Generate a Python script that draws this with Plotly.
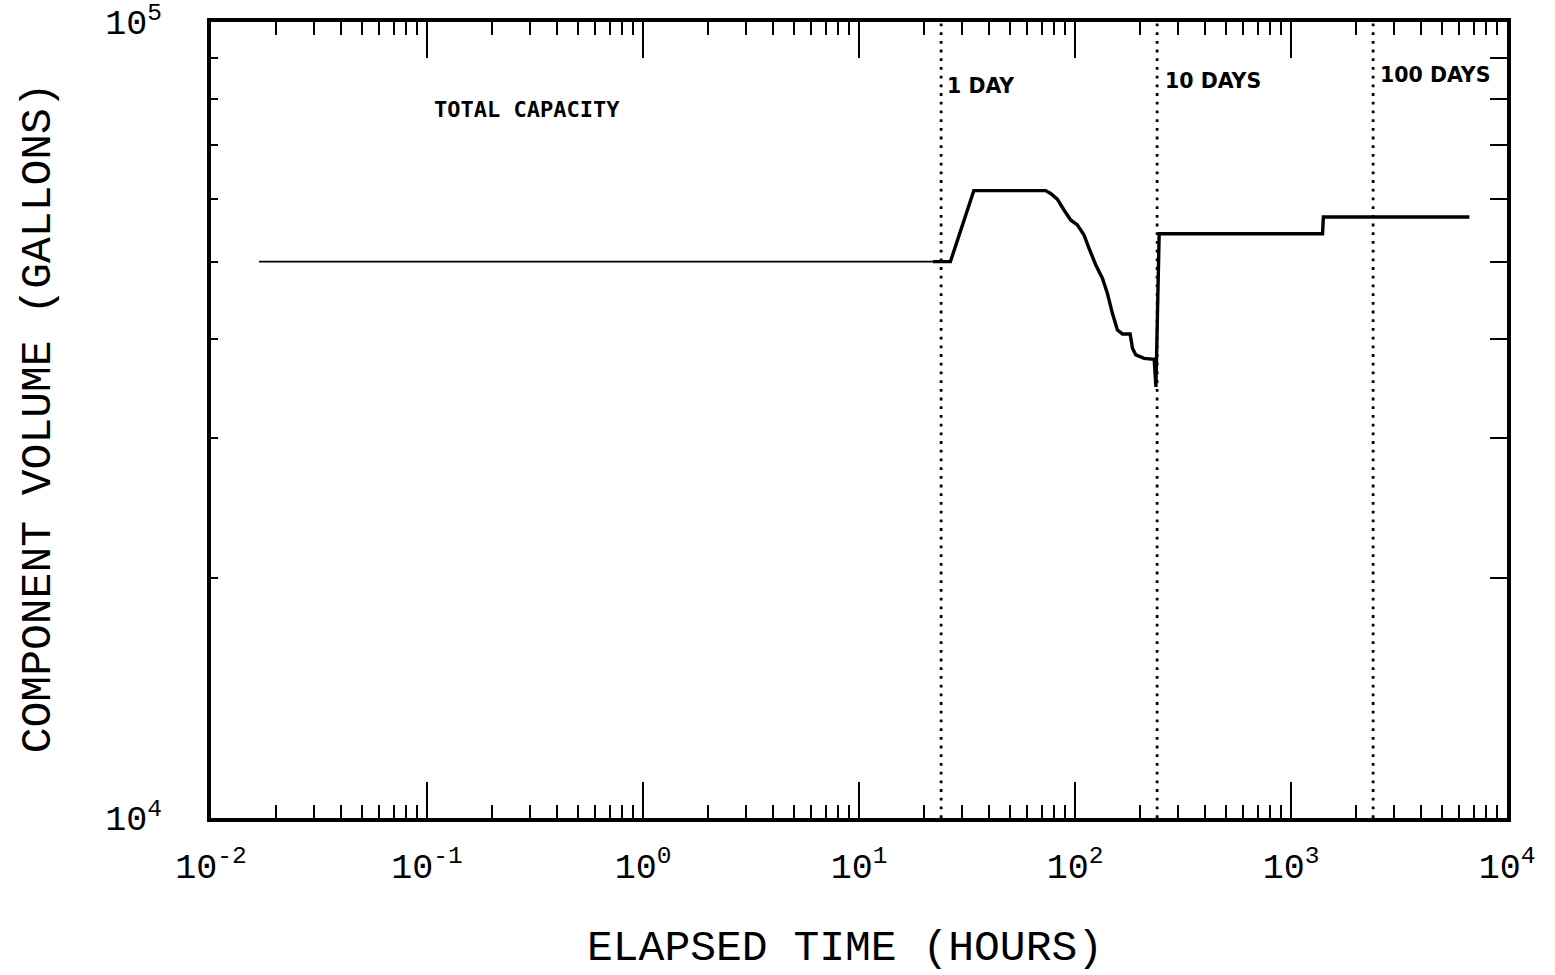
import numpy as np
import plotly.graph_objects as go

# Component volume history (hours, gallons)
early_time_hr = [1 / 60, 22.0]
early_volume_gal = [50000, 50000]

time_hr = [22.0, 26.5, 34.0, 73.1, 77.1, 82.8, 88.9, 95.5, 102.5, 110.1, 116.1,
           124.8, 133.9, 141.2, 149.0, 157.2, 165.8, 180.0, 184.5, 191.3, 209.0,
           232.6, 236.9, 245.3, 1400.0, 1412.0, 6700.0]
volume_gal = [50000, 50000, 61400, 61400, 60900, 59900, 58050, 56400, 55600,
              54000, 51970, 49520, 47650, 45620, 43050, 41030, 40560, 40560,
              38920, 38170, 37800, 37700, 34800, 54200, 54200, 56900, 56900]

# Reference time marks
mark_hours = [24, 240, 2400]
mark_labels = ["1 DAY", "10 DAYS", "100 DAYS"]
mark_label_volume = [83100, 84300, 85800]
mark_label_offset = [1.04, 1.06, 1.05]

capacity_label = "TOTAL CAPACITY"
capacity_label_pos = (0.29, 77750)

x_major = [1e-2, 1e-1, 1e0, 1e1, 1e2, 1e3, 1e4]
x_major_text = ["10<sup>-2</sup>", "10<sup>-1</sup>", "10<sup>0</sup>", "10<sup>1</sup>",
                "10<sup>2</sup>", "10<sup>3</sup>", "10<sup>4</sup>"]
x_minor = [m * 10.0 ** d for d in range(-2, 4) for m in range(2, 10)]
y_major = [1e4, 1e5]
y_major_text = ["10<sup>4</sup>", "10<sup>5</sup>"]
y_minor = [m * 1e4 for m in range(2, 10)]

X_RANGE = [-2, 4]
Y_RANGE = [4 - 1e-6, 5 + 1e-6]

MONO = "Liberation Mono"
BOLD = "DejaVu Sans"

fig = go.Figure()

fig.add_trace(go.Scatter(x=early_time_hr, y=early_volume_gal, mode="lines",
                         line=dict(color="black", width=1.6), showlegend=False,
                         hoverinfo="skip"))
fig.add_trace(go.Scatter(x=time_hr, y=volume_gal, mode="lines",
                         line=dict(color="black", width=3.4), showlegend=False,
                         hoverinfo="skip"))

for h in mark_hours:
    fig.add_trace(go.Scatter(x=[h, h], y=[1e4, 1e5], mode="lines", xaxis="x2", yaxis="y2",
                             line=dict(color="black", width=2.8, dash="2.8px,5.9px"),
                             showlegend=False, hoverinfo="skip"))

annotations = []
for h, lab, v, k in zip(mark_hours, mark_labels, mark_label_volume, mark_label_offset):
    annotations.append(dict(x=np.log10(h * k), y=np.log10(v), xref="x", yref="y",
                            text="<b>" + lab + "</b>", showarrow=False,
                            xanchor="left", yanchor="middle",
                            font=dict(family=BOLD, size=20.5, color="black")))
annotations.append(dict(x=np.log10(capacity_label_pos[0]), y=np.log10(capacity_label_pos[1]),
                        xref="x", yref="y", text="<b>" + capacity_label + "</b>",
                        showarrow=False, xanchor="center", yanchor="middle",
                        font=dict(family="DejaVu Sans Mono", size=22, color="black")))
annotations.append(dict(x=0.489, y=-0.164, xref="paper", yref="paper",
                        xanchor="center", yanchor="middle",
                        text="ELAPSED TIME (HOURS)", showarrow=False,
                        font=dict(family=MONO, size=43, color="black")))
annotations.append(dict(x=-0.133, y=0.503, xref="paper", yref="paper",
                        xanchor="center", yanchor="middle",
                        text="COMPONENT VOLUME (GALLONS)", showarrow=False, textangle=-90,
                        font=dict(family=MONO, size=43, color="black")))

tick_font = dict(family=MONO, size=35, color="black")

fig.update_layout(
    width=1555, height=975,
    margin=dict(l=211, r=48, t=22, b=157),
    paper_bgcolor="white", plot_bgcolor="white",
    annotations=annotations,
    # minor ticks (short), mirrored top and bottom
    xaxis=dict(type="log", range=X_RANGE, showgrid=False, zeroline=False,
               showline=True, linecolor="black", linewidth=4, mirror="allticks",
               ticks="inside", ticklen=13, tickwidth=2, tickcolor="black",
               tickmode="array", tickvals=x_minor, showticklabels=False,
               automargin=False),
    # decade ticks (long) with labels
    xaxis2=dict(type="log", range=X_RANGE, overlaying="x", anchor="y", side="bottom",
                showgrid=False, zeroline=False,
                showline=True, linecolor="black", linewidth=4, mirror="allticks",
                ticks="inside", ticklen=36, tickwidth=2, tickcolor="black",
                tickmode="array", tickvals=x_major, ticktext=x_major_text,
                tickfont=tick_font, ticklabelstandoff=14, ticklabeloverflow="allow",
                automargin=False),
    yaxis=dict(type="log", range=Y_RANGE, showgrid=False, zeroline=False,
               showline=True, linecolor="black", linewidth=4, mirror=True,
               ticks="inside", ticklen=7, tickwidth=2, tickcolor="black",
               tickmode="array", tickvals=y_minor + y_major,
               ticktext=[""] * len(y_minor) + y_major_text,
               tickfont=tick_font, ticklabelstandoff=38, ticklabeloverflow="allow",
               automargin=False),
    yaxis2=dict(type="log", range=Y_RANGE, overlaying="y", side="right", anchor="x",
                showgrid=False, zeroline=False, showline=False, showticklabels=False,
                ticks="inside", ticklen=17, tickwidth=2, tickcolor="black",
                tickmode="array", tickvals=y_minor, automargin=False),
)

fig.write_html("out.html")
